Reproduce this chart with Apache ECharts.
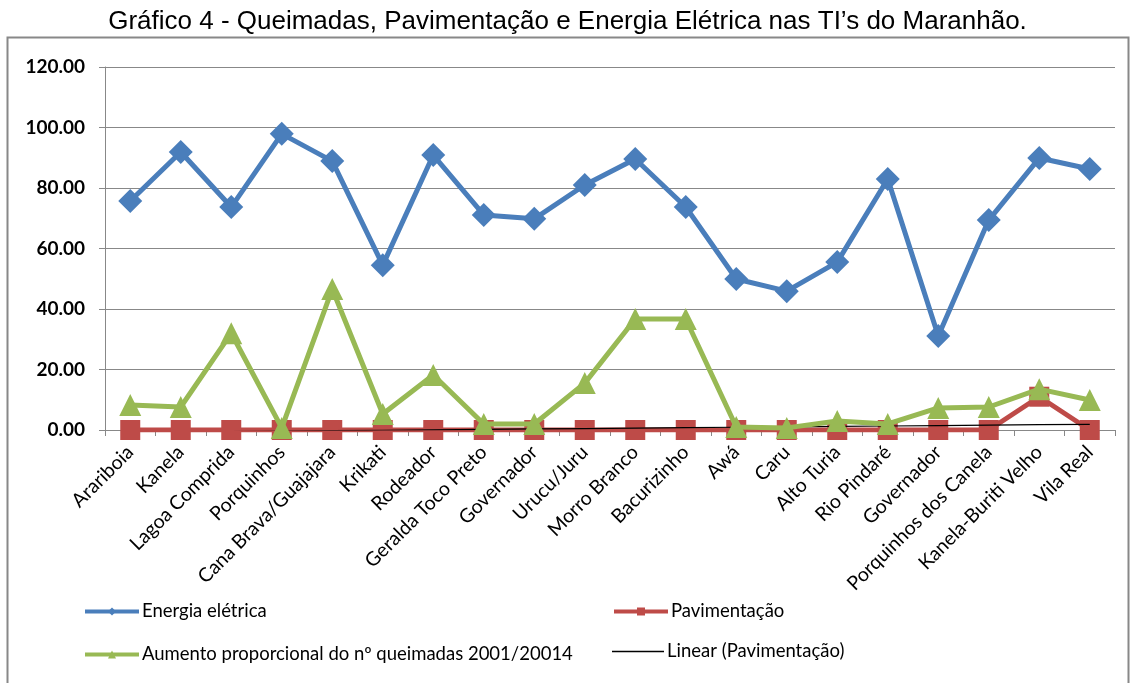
<!DOCTYPE html>
<html>
<head>
<meta charset="utf-8">
<script src="https://cdn.jsdelivr.net/npm/echarts@6/dist/echarts.min.js"></script>
<style>
    html, body { margin: 0; padding: 0; background: #fff; }
    #chart { width: 1135px; height: 683px; }
</style>
</head>
<body>
<div id="chart"></div>
<script>
// categorias (TIs)
const categories = [
    'Arariboia', 'Kanela', 'Lagoa Comprida', 'Porquinhos', 'Cana Brava/Guajajara',
    'Krikati', 'Rodeador', 'Geralda Toco Preto', 'Governador', 'Urucu/Juru',
    'Morro Branco', 'Bacurizinho', 'Awá', 'Caru', 'Alto Turia',
    'Rio Pindaré', 'Governador', 'Porquinhos dos Canela', 'Kanela-Buriti Velho', 'Vila Real',
]
const energia = [75.7, 91.9, 73.7, 97.9, 88.9, 54.5, 90.9, 71.1, 69.8, 81.0,
    89.6, 73.7, 49.9, 45.9, 55.5, 83.0, 31.1, 69.4, 89.9, 86.3]
const pavimentacao = [0, 0, 0, 0, 0, 0, 0, 0, 0, 0,
    0, 0, 0, 0, 0, 0, 0, 0, 11.0, 0]
const queimadas = [8.3, 7.6, 32.0, 0.7, 46.6, 5.3, 18.2, 2.0, 2.0, 15.5,
    36.7, 36.7, 1.0, 0.7, 3.0, 2.0, 7.3, 7.6, 13.5, 9.9]

// linha de tendência (mínimos quadrados sobre Pavimentação)
function linearTrend(values) {
    const n = values.length
    const mx = (n - 1) / 2
    const my = values.reduce((a, b) => a + b, 0) / n
    let sxy = 0, sxx = 0
    values.forEach((v, i) => {
        sxy += (i - mx) * (v - my)
        sxx += (i - mx) * (i - mx)
    })
    const slope = sxy / sxx
    return values.map((v, i) => +(my + slope * (i - mx)).toFixed(3))
}
const tendencia = linearTrend(pavimentacao)

const font = 'Lato, "Open Sans", sans-serif'
const blue = '#4a7ebb'
const red = '#be4b48'
const green = '#98b954'

const legendText = { fontFamily: font, fontSize: 18.5, color: '#000', padding: [0, 0, 0, -2] }

let option = {
    animation: false,
    backgroundColor: '#fff',
    title: {
        text: 'Gráfico 4 - Queimadas, Pavimentação e Energia Elétrica nas TI’s do Maranhão.',
        left: 'center',
        top: 4,
        textStyle: {
            fontFamily: '"Liberation Sans", Arial, sans-serif',
            fontSize: 26,
            fontWeight: 'normal',
            color: '#000',
        },
    },
    graphic: [
        {
            type: 'rect',
            shape: { x: 7.5, y: 37.5, width: 1121, height: 660 },
            style: { fill: 'none', stroke: '#888', lineWidth: 2 },
            z: -1,
        },
    ],
    legend: [
        {
            data: ['Energia elétrica'],
            left: 78, top: 597,
            itemWidth: 54, itemHeight: 10,
            lineStyle: { width: 4 },
            textStyle: legendText,
        },
        {
            data: ['Pavimentação'],
            left: 607, top: 597,
            itemWidth: 54, itemHeight: 10,
            lineStyle: { width: 4 },
            textStyle: legendText,
        },
        {
            data: ['Aumento proporcional do nº queimadas 2001/20014'],
            left: 78, top: 640,
            itemWidth: 54, itemHeight: 10,
            lineStyle: { width: 4 },
            textStyle: legendText,
        },
        {
            data: [{ name: 'Linear (Pavimentação)', icon: 'rect' }],
            left: 607, top: 637,
            itemWidth: 52, itemHeight: 1.5,
            textStyle: legendText,
        },
    ],
    grid: {
        left: 105,
        right: 20,
        top: 67,
        bottom: 253,
        containLabel: false,
    },
    xAxis: {
        type: 'category',
        data: categories,
        boundaryGap: true,
        axisLine: { lineStyle: { color: '#888', width: 1 } },
        axisTick: { show: true, alignWithLabel: false, length: 6, lineStyle: { color: '#888' } },
        axisLabel: {
            interval: 0,
            rotate: 45,
            margin: 19,
            fontFamily: font,
            fontSize: 19.5,
            color: '#000',
        },
    },
    yAxis: {
        type: 'value',
        min: 0,
        max: 120,
        interval: 20,
        axisLine: { show: true, lineStyle: { color: '#888' } },
        axisTick: { show: true, length: 6, lineStyle: { color: '#888' } },
        splitLine: { lineStyle: { color: '#888', width: 1 } },
        axisLabel: {
            formatter: v => v.toFixed(2),
            fontFamily: font,
            fontSize: 19,
            fontWeight: 'bold',
            color: '#000',
            margin: 20,
        },
    },
    series: [
        {
            name: 'Energia elétrica',
            type: 'line',
            data: energia,
            symbol: 'diamond',
            symbolSize: 24,
            itemStyle: { color: blue },
            lineStyle: { color: blue, width: 5 },
            z: 2,
        },
        {
            name: 'Pavimentação',
            type: 'line',
            data: pavimentacao,
            symbol: 'rect',
            symbolSize: 20,
            itemStyle: { color: red },
            lineStyle: { color: red, width: 5 },
            z: 3,
        },
        {
            name: 'Linear (Pavimentação)',
            type: 'line',
            data: tendencia,
            symbol: 'none',
            itemStyle: { color: '#000' },
            lineStyle: { color: '#000', width: 1.2 },
            z: 4,
        },
        {
            name: 'Aumento proporcional do nº queimadas 2001/20014',
            type: 'line',
            data: queimadas,
            symbol: 'triangle',
            symbolSize: 22,
            itemStyle: { color: green },
            lineStyle: { color: green, width: 5 },
            z: 5,
        },
    ],
}

let myChart = echarts.init(document.getElementById('chart'))
myChart.setOption(option, true)
</script>
</body>
</html>
